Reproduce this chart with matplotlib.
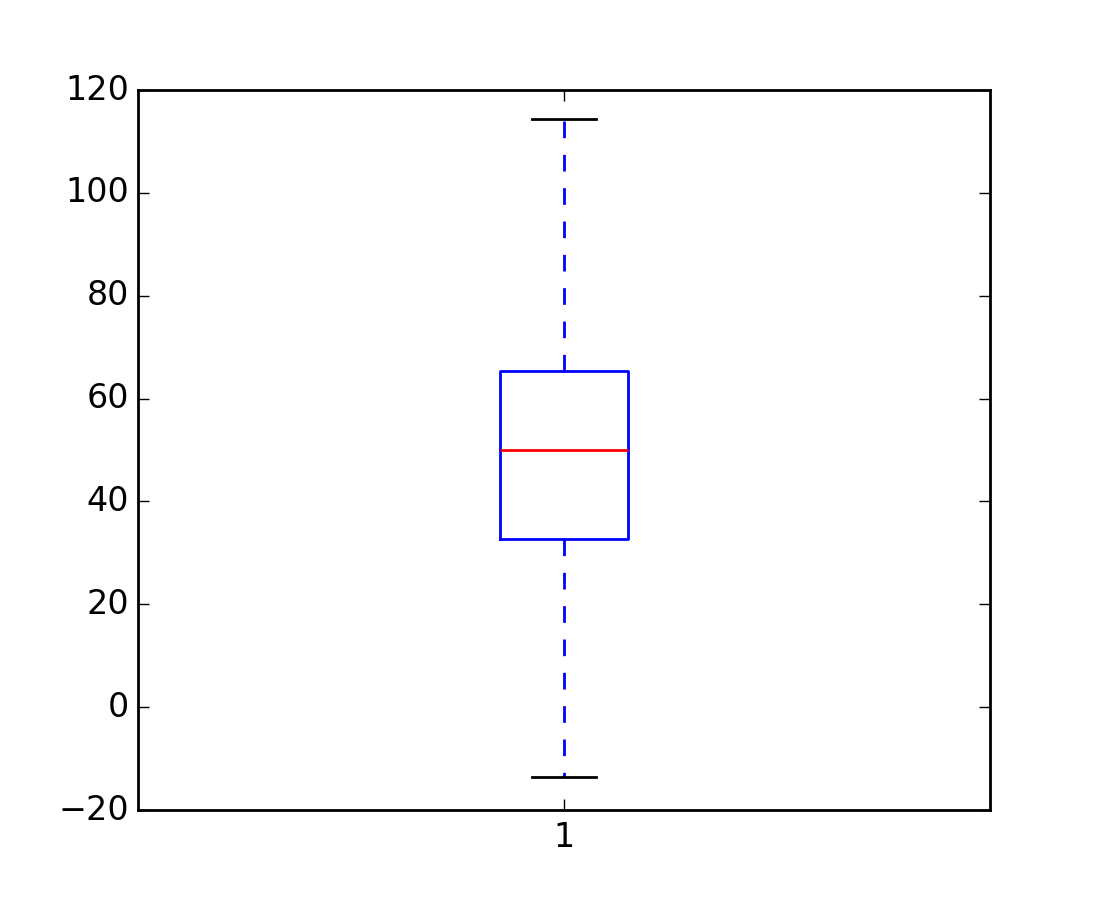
import matplotlib
matplotlib.use("Agg")
import matplotlib.pyplot as plt

plt.style.use("classic")

# box statistics
labels = ["1"]
whislo = [-13.6]
q1 = [32.7]
med = [50.0]
q3 = [65.4]
whishi = [114.4]

stats = []
for i in range(len(labels)):
    stats.append({
        "label": labels[i],
        "whislo": whislo[i],
        "q1": q1[i],
        "med": med[i],
        "q3": q3[i],
        "whishi": whishi[i],
        "fliers": [],
    })

fig, ax = plt.subplots(figsize=(5.5, 4.5), dpi=200)
ax.bxp(stats, showfliers=False)
ax.set_ylim(-20, 120)
ax.tick_params(axis="y", pad=3)

fig.savefig("out.png", dpi=200, facecolor="white")
